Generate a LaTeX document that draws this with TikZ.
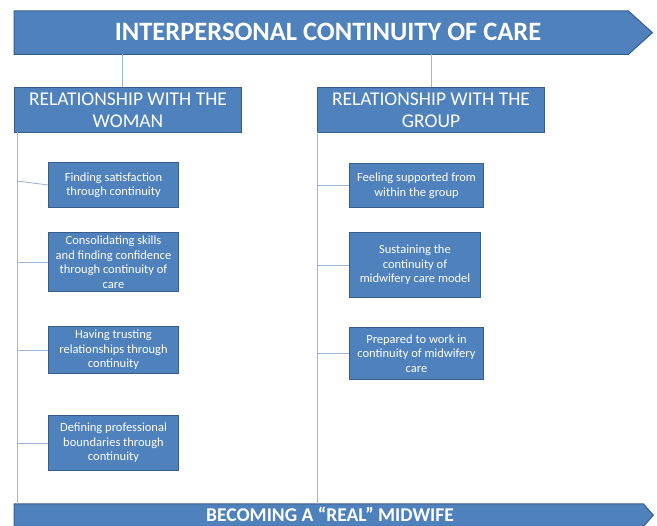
\documentclass[tikz,border=0pt]{standalone}
\usepackage{fontspec}
\setmainfont{Carlito}
\definecolor{boxfill}{HTML}{4F81BD}
\definecolor{boxline}{HTML}{385D8A}
\definecolor{conn}{HTML}{9DB6D6}
\begin{document}
\begin{tikzpicture}[x=1pt,y=-1pt,
  shape box/.style={draw=boxline,fill=boxfill,line width=1pt,text=white,align=center,inner sep=1pt},
  hdrbox/.style={shape box,minimum width=227pt,minimum height=45pt,font=\fontsize{19.5}{22}\selectfont,anchor=north west},
  childbox/.style={shape box,font=\fontsize{12.5}{14.5}\selectfont,anchor=north west},
  connline/.style={draw=conn,line width=0.9pt}]
\useasboundingbox (0,0) rectangle (657,526);
% top arrow
\node[minimum width=614pt,minimum height=43pt,inner sep=0pt,anchor=north west] (top) at (14,11) {};
\filldraw[fill=boxfill,draw=boxline,line width=1pt] (top.north west) -- (top.north east) -- ([xshift=24]top.east) -- (top.south east) -- (top.south west) -- cycle;
\node[text=white,font=\fontsize{26.5}{30}\selectfont\bfseries] (toptext) at (328,32) {INTERPERSONAL CONTINUITY OF CARE};
% bottom arrow
\node[minimum width=629pt,minimum height=22pt,inner sep=0pt,anchor=north west] (bot) at (14,504) {};
\filldraw[fill=boxfill,draw=boxline,line width=1pt] (bot.north west) -- (bot.north east) -- ([xshift=10]bot.east) -- (bot.south east) -- (bot.south west) -- cycle;
\node[text=white,inner sep=0pt,font=\fontsize{19.5}{22}\selectfont\bfseries] (bottext) at (330,514.5) {BECOMING A “REAL” MIDWIFE};
% headers
\node[hdrbox] (hL) at (14,87) {RELATIONSHIP WITH THE\\WOMAN};
\node[hdrbox] (hR) at (317,87) {RELATIONSHIP WITH THE\\GROUP};
\draw[connline] (top.south -| 122,0) -- (hL.north -| 122,0);
\draw[connline] (top.south -| hR.north) -- (hR.north);
% spines
\coordinate (sL1) at (17,132);
\coordinate (sL2) at (17,504);
\coordinate (sR1) at (317,132);
\coordinate (sR2) at (317,504);
\draw[connline] (sL1) -- (sL2);
\draw[connline] (sR1) -- (sR2);
% left children
\node[childbox,minimum width=130pt,minimum height=45pt] (l1) at (48,162) {Finding satisfaction\\through continuity};
\node[childbox,minimum width=130pt,minimum height=59pt] (l2) at (48,232) {Consolidating skills\\and finding confidence\\through continuity of\\care};
\node[childbox,minimum width=130pt,minimum height=47pt] (l3) at (48,326) {Having trusting\\relationships through\\continuity};
\node[childbox,minimum width=130pt,minimum height=55pt] (l4) at (48,415) {Defining professional\\boundaries through\\continuity};
\draw[connline] (17,181) -- (l1.west);
\draw[connline] (l2.west -| sL1) -- (l2.west);
\draw[connline] (l3.west -| sL1) -- (l3.west);
\draw[connline] (l4.west -| sL1) -- (l4.west);
% right children
\node[childbox,minimum width=134pt,minimum height=44pt] (r1) at (349,163) {Feeling supported from\\within the group};
\node[childbox,minimum width=131pt,minimum height=65pt] (r2) at (349,232) {Sustaining the\\continuity of\\midwifery care model};
\node[childbox,minimum width=134pt,minimum height=52pt] (r3) at (349,327) {Prepared to work in\\continuity of midwifery\\care};
\draw[connline] (r1.west -| sR1) -- (r1.west);
\draw[connline] (r2.west -| sR1) -- (r2.west);
\draw[connline] (r3.west -| sR1) -- (r3.west);
\end{tikzpicture}
\end{document}
